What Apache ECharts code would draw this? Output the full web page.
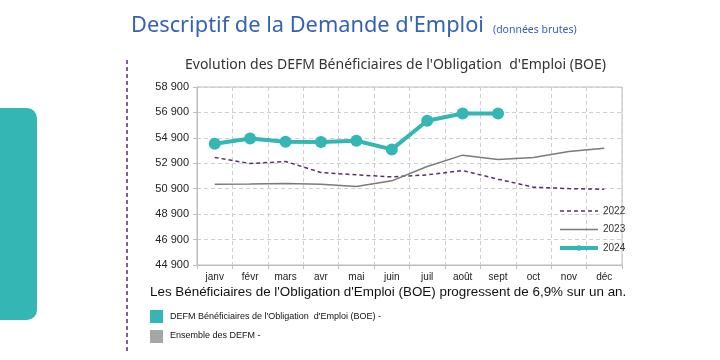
<!DOCTYPE html>
<html><head><meta charset="utf-8">
<script src="https://cdn.jsdelivr.net/npm/echarts@6/dist/echarts.min.js"></script>
<style>html,body{margin:0;padding:0;background:#fff}#c{width:720px;height:360px}</style>
</head><body><div id="c"></div>
<script>
const months = ['janv','févr','mars','avr','mai','juin','juil','août','sept','oct','nov','déc'];
const s2022 = [53360,52880,53040,52180,51990,51830,51990,52330,51650,51020,50910,50860];
const s2023 = [51260,51280,51310,51260,51070,51520,52650,53540,53200,53360,53830,54090];
const s2024 = [54430,54850,54590,54570,54670,53990,56250,56820,56820];
const yMin = 44900, yMax = 58900, yStep = 2000;

const fmt = v => { const s = String(Math.round(v)); return s.slice(0, s.length-3) + ' ' + s.slice(-3); };

const chart = echarts.init(document.getElementById('c'));
chart.setOption({
  animation:false,
  backgroundColor:'#fff',
  grid:{left:197,right:98,top:87,bottom:95,show:true,borderColor:'#bdbdbd',borderWidth:1},
  xAxis:{type:'category',data:months,boundaryGap:true,
    axisLine:{lineStyle:{color:'#bdbdbd'}},
    axisTick:{show:true,length:4,lineStyle:{color:'#bdbdbd'}},
    axisLabel:{color:'#222',fontSize:10,fontFamily:'Liberation Sans',margin:7},
    splitLine:{show:true,lineStyle:{color:'#cfcfcf',type:[4,3]}}},
  yAxis:{type:'value',min:yMin,max:yMax,interval:yStep,
    axisLine:{show:true,lineStyle:{color:'#bdbdbd'}},
    axisTick:{show:true,length:4,lineStyle:{color:'#bdbdbd'}},
    axisLabel:{color:'#222',fontSize:11,fontFamily:'Liberation Sans',formatter:fmt,margin:8},
    splitLine:{show:true,lineStyle:{color:'#cfcfcf',type:[4,3]}}},
  legend:{orient:'vertical',left:553,top:201,itemWidth:38,itemHeight:7,itemGap:8.5,
    textStyle:{fontSize:10,fontFamily:'Liberation Sans',color:'#333'},
    data:[
      {name:'2022',itemStyle:{opacity:0},lineStyle:{color:'#5b2d6e',width:1.5,type:[4,3]}},
      {name:'2023',itemStyle:{opacity:0},lineStyle:{color:'#7a7a7a',width:1.5}},
      {name:'2024',itemStyle:{color:'#33b6b4',opacity:1},lineStyle:{color:'#33b6b4',width:4}}
    ]},
  series:[
    {name:'2022',type:'line',data:s2022,symbol:'none',
      lineStyle:{color:'#5b2d6e',width:1.5,type:[4,3]},itemStyle:{color:'#5b2d6e'}},
    {name:'2023',type:'line',data:s2023,symbol:'none',
      lineStyle:{color:'#7a7a7a',width:1.5},itemStyle:{color:'#7a7a7a'}},
    {name:'2024',type:'line',data:s2024,symbol:'circle',symbolSize:12,
      lineStyle:{color:'#33b6b4',width:4},itemStyle:{color:'#33b6b4'}}
  ],
  graphic:[
    {type:'rect',left:-12,top:108,shape:{width:49,height:212,r:10},style:{fill:'#33b6b4'}},
    {type:'line',shape:{x1:127,y1:60,x2:127,y2:352},style:{stroke:'#5b2d6e',lineWidth:1.5,lineDash:[4,3]}},
    {type:'text',left:131,top:15,style:{text:"Descriptif de la Demande d'Emploi",font:'21.8px "Noto Sans"',fill:'#3462b8'}},
    {type:'text',left:493,top:25,style:{text:'(données brutes)',font:'10.5px "Noto Sans"',fill:'#3462b8'}},
    {type:'text',left:185,top:58,style:{text:"Evolution des DEFM Bénéficiaires de l'Obligation  d'Emploi (BOE)",font:'14px "Noto Sans"',fill:'#333'}},
    {type:'text',left:150,top:286,style:{text:"Les Bénéficiaires de l'Obligation d'Emploi (BOE) progressent de 6,9% sur un an.",font:'13.4px "Liberation Sans"',fill:'#111'}},
    {type:'rect',left:150,top:310,shape:{width:13,height:13},style:{fill:'#33b6b4'}},
    {type:'text',left:170,top:312,style:{text:"DEFM Bénéficiaires de l'Obligation  d'Emploi (BOE) -",font:'9px "Liberation Sans"',fill:'#111'}},
    {type:'rect',left:150,top:330,shape:{width:13,height:13},style:{fill:'#a6a6a6'}},
    {type:'text',left:170,top:331,style:{text:'Ensemble des DEFM -',font:'9px "Liberation Sans"',fill:'#111'}}
  ]
});
</script></body></html>
